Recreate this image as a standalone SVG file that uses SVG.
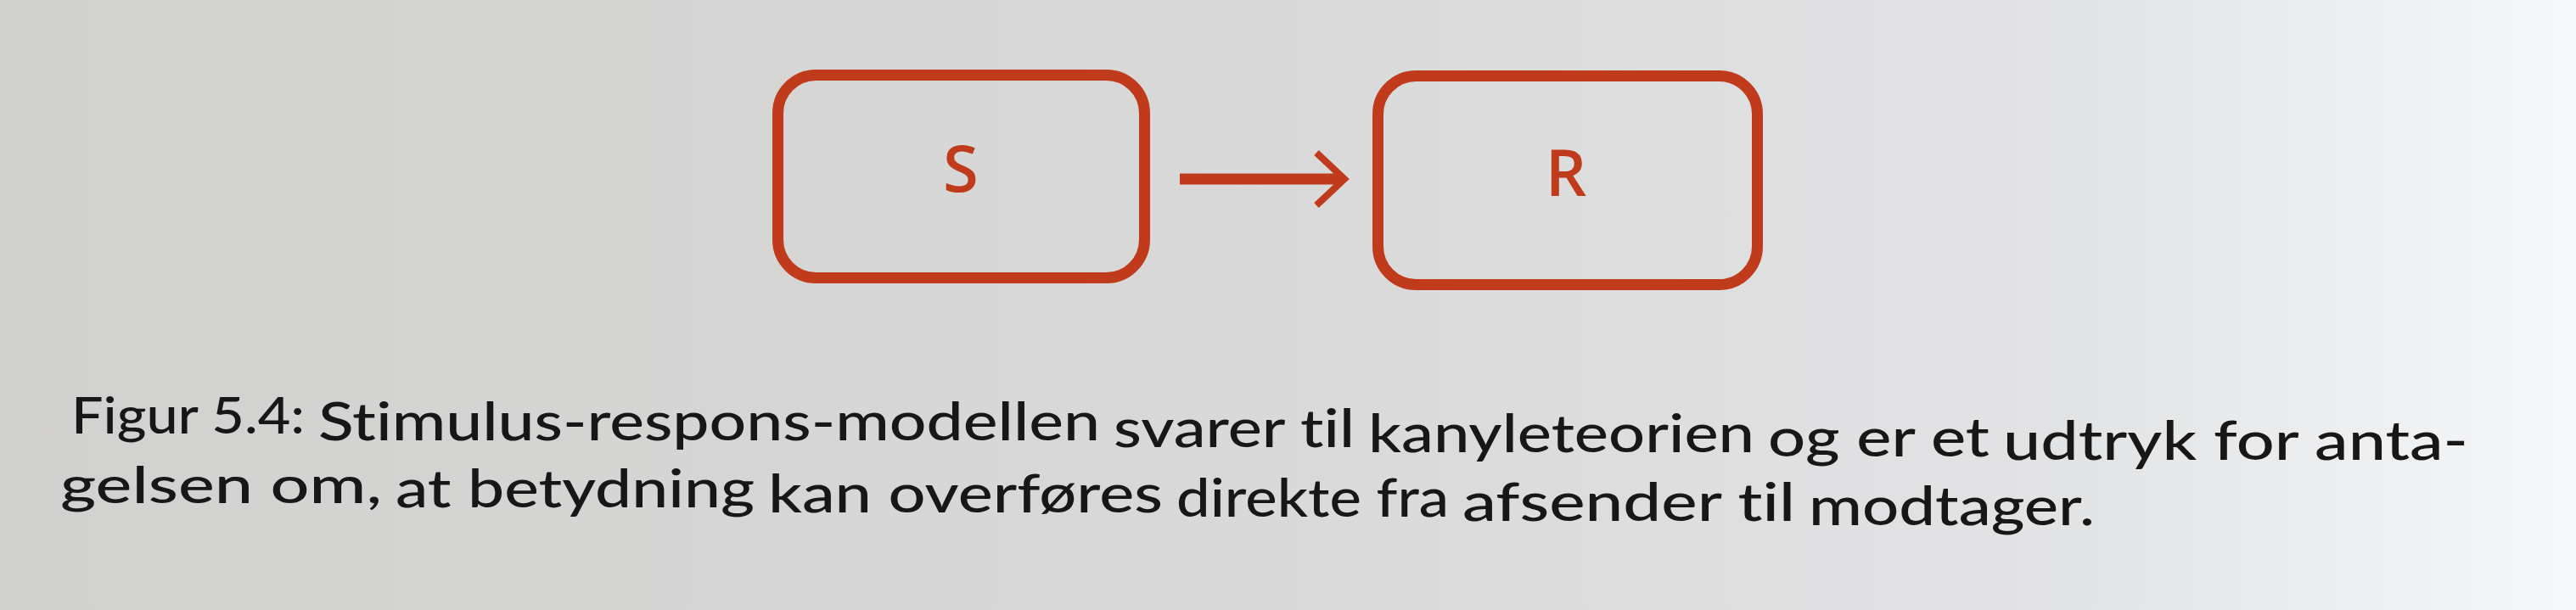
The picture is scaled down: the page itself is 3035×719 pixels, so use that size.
<svg xmlns="http://www.w3.org/2000/svg" width="3035" height="719" viewBox="0 0 3035 719">
  <defs>
    <linearGradient id="paper" x1="0" y1="0" x2="1" y2="0">
      <stop offset="0" stop-color="#d2d1cf"/>
      <stop offset="0.5" stop-color="#d9d9d9"/>
      <stop offset="0.8" stop-color="#e2e3e5"/>
      <stop offset="0.93" stop-color="#eef0f2"/>
      <stop offset="1" stop-color="#f7f8fa"/>
    </linearGradient>
    <style>
      .box { fill: none; stroke: #c03a1c; stroke-width: 13; }
      .lbl { font-family: "Open Sans", "Noto Sans", "DejaVu Sans", sans-serif; font-size: 76px; font-weight: 600; fill: #c03a1c; text-anchor: middle; }
      .cap { font-family: Lato, "Open Sans", "DejaVu Sans", sans-serif; font-weight: 500; fill: #171717; font-variant-ligatures: none; font-feature-settings: "liga" 0, "clig" 0; }
      .conn { fill: none; stroke: #c03a1c; }
    </style>
  </defs>
  <rect x="0" y="0" width="3035" height="719" fill="url(#paper)"/>

  <g id="node-S">
    <rect class="box" x="916.5" y="88.5" width="432" height="239" rx="45" ry="45"/>
    <text class="lbl" x="1132" y="226">S</text>
  </g>

  <g id="node-R">
    <rect class="box" x="1623.5" y="89.5" width="447" height="246" rx="45" ry="45"/>
    <text class="lbl" x="1845" y="231">R</text>
  </g>

  <g id="connectors">
    <line class="conn" x1="1390" y1="211" x2="1580" y2="211" stroke-width="13"/>
    <polyline class="conn" points="1551,180 1584,211 1551,242" stroke-width="8" stroke-linejoin="miter"/>
  </g>

  <g id="caption">
    <text class="cap" x="84" y="511" font-size="60.2" textLength="275" lengthAdjust="spacingAndGlyphs">Figur 5.4:</text>
    <text class="cap" x="375" y="519" font-size="61.1" textLength="921" lengthAdjust="spacingAndGlyphs">Stimulus-respons-modellen</text>
    <text class="cap" x="1312" y="527" font-size="62" textLength="284" lengthAdjust="spacingAndGlyphs">svarer til</text>
    <text class="cap" x="1612" y="533" font-size="62.5" textLength="455" lengthAdjust="spacingAndGlyphs">kanyleteorien</text>
    <text class="cap" x="2083" y="538" font-size="63" textLength="261" lengthAdjust="spacingAndGlyphs">og er et</text>
    <text class="cap" x="2360" y="542" font-size="63.6" textLength="548" lengthAdjust="spacingAndGlyphs">udtryk for anta-</text>

    <text class="cap" x="71" y="593" font-size="60.3" textLength="379" lengthAdjust="spacingAndGlyphs">gelsen om,</text>
    <text class="cap" x="466" y="598" font-size="60.9" textLength="423" lengthAdjust="spacingAndGlyphs">at betydning</text>
    <text class="cap" x="905" y="604" font-size="61.5" textLength="465" lengthAdjust="spacingAndGlyphs">kan overføres</text>
    <text class="cap" x="1386" y="609" font-size="62.1" textLength="321" lengthAdjust="spacingAndGlyphs">direkte fra</text>
    <text class="cap" x="1723" y="614" font-size="62.6" textLength="392" lengthAdjust="spacingAndGlyphs">afsender til</text>
    <text class="cap" x="2131" y="619" font-size="63.2" textLength="337" lengthAdjust="spacingAndGlyphs">modtager.</text>
  </g>
</svg>
